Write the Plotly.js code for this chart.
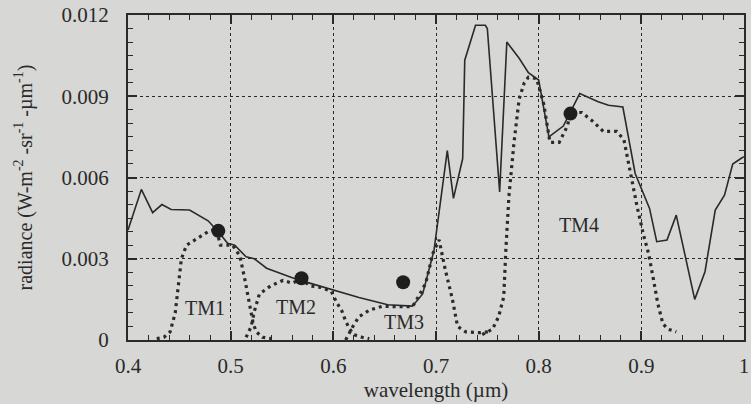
<!DOCTYPE html>
<html><head><meta charset="utf-8">
<script src="https://cdn.plot.ly/plotly-3.0.1.min.js"></script>
<style>html,body{margin:0;padding:0;background:#d7d7d5;}#chart{width:751px;height:404px;background:#d7d7d5;}</style>
</head><body><div id="chart"></div>
<script>
// Measured radiance (solid line)
const radWl = [0.400,0.413,0.424,0.433,0.442,0.460,0.478,0.489,0.497,0.504,0.515,0.523,0.535,0.560,0.577,0.600,0.625,0.653,0.677,0.687,0.698,0.711,0.717,0.726,0.728,0.7385,0.748,0.750,0.762,0.769,0.781,0.790,0.800,0.810,0.824,0.840,0.858,0.868,0.882,0.894,0.902,0.908,0.915,0.925,0.934,0.952,0.962,0.972,0.981,0.989,0.997,1.000];
const radVal = [0.00406,0.00556,0.0047,0.0050,0.00482,0.0048,0.0044,0.00395,0.00357,0.0035,0.00307,0.0030,0.00265,0.0023,0.0021,0.00185,0.00157,0.0013,0.00125,0.0017,0.0033,0.00699,0.00523,0.0067,0.01033,0.01162,0.01162,0.0115,0.00547,0.0110,0.0104,0.00987,0.0096,0.0075,0.0079,0.0091,0.0088,0.00867,0.0086,0.00615,0.0054,0.00486,0.00363,0.00369,0.00461,0.0015,0.00252,0.0048,0.00535,0.0065,0.0067,0.00677];

// TM band responses (dashed)
const tm1Wl = [0.428,0.435,0.441,0.446,0.449,0.452,0.457,0.467,0.478,0.486,0.490,0.502,0.509,0.514,0.518,0.522,0.525,0.531,0.540];
const tm1Val = [0.00005,0.0001,0.0003,0.001,0.002,0.003,0.0035,0.00375,0.004,0.0041,0.0035,0.0035,0.0031,0.0022,0.00135,0.0006,0.0003,0.0001,0.00005];
const tm2Wl = [0.515,0.520,0.523,0.528,0.539,0.551,0.560,0.569,0.577,0.588,0.598,0.603,0.608,0.612,0.616,0.620,0.628,0.635];
const tm2Val = [0.0001,0.0005,0.00105,0.0017,0.002,0.0022,0.0021,0.00225,0.002,0.00194,0.0018,0.0014,0.0011,0.0007,0.0004,0.0002,0.0001,0.00005];
const tm3Wl = [0.612,0.619,0.625,0.635,0.648,0.658,0.677,0.683,0.690,0.697,0.703,0.709,0.716,0.721,0.729,0.742,0.751];
const tm3Val = [0.0000,0.0005,0.00086,0.0011,0.00125,0.00123,0.00123,0.0016,0.0021,0.0032,0.0037,0.0026,0.0015,0.0005,0.0003,0.00027,0.0003];
const tm4Wl = [0.745,0.755,0.761,0.766,0.768,0.771,0.776,0.781,0.786,0.790,0.798,0.805,0.811,0.820,0.828,0.831,0.842,0.852,0.863,0.876,0.883,0.886,0.890,0.896,0.902,0.907,0.912,0.916,0.921,0.926,0.934];
const tm4Val = [0.0002,0.0004,0.00086,0.0016,0.0033,0.0053,0.0073,0.0089,0.0095,0.0097,0.00965,0.0087,0.0073,0.0073,0.0079,0.0084,0.0084,0.0081,0.0077,0.0077,0.0074,0.0068,0.006,0.0049,0.0039,0.0032,0.0022,0.00135,0.0006,0.0004,0.0003];

// Band-averaged points (filled circles)
const dotWl = [0.488,0.569,0.668,0.831];
const dotVal = [0.00403,0.00228,0.00213,0.00836];

// Band labels
const bandNames = ["TM1","TM2","TM3","TM4"];
const bandLabelWl = [0.475,0.564,0.669,0.839];
const bandLabelVal = [0.00118,0.00123,0.00068,0.00424];

const ink = "#2a2a2a";
const dashStyle = {color: ink, width: 3.2, dash: "3px,4px"};
const traces = [
  {x: radWl, y: radVal, mode: "lines", line: {color: ink, width: 1.6}},
  {x: tm1Wl, y: tm1Val, mode: "lines", line: dashStyle},
  {x: tm2Wl, y: tm2Val, mode: "lines", line: dashStyle},
  {x: tm3Wl, y: tm3Val, mode: "lines", line: dashStyle},
  {x: tm4Wl, y: tm4Val, mode: "lines", line: dashStyle},
  {x: dotWl, y: dotVal, mode: "markers", marker: {color: "#1e1e1e", size: 14}}
];

const fam = "'Liberation Serif', 'DejaVu Serif', serif";
const layout = {
  width: 751, height: 404,
  paper_bgcolor: "rgba(0,0,0,0)", plot_bgcolor: "rgba(0,0,0,0)",
  margin: {l: 128, r: 7, t: 15, b: 64},
  showlegend: false,
  font: {family: fam, color: ink, size: 20},
  xaxis: {
    range: [0.4, 1.0], tickmode: "linear", tick0: 0.4, dtick: 0.1,
    ticks: "inside", ticklen: 9, tickwidth: 1.6, tickcolor: ink,
    showline: true, linecolor: ink, linewidth: 2, mirror: "ticks",
    showgrid: true, gridcolor: ink, griddash: "dot", gridwidth: 1.3,
    zeroline: false, ticklabelstandoff: 6,
    minor: {dtick: 0.02, ticks: "inside", ticklen: 5, tickwidth: 1.3, tickcolor: ink, showgrid: false},
    tickfont: {size: 21, family: fam, color: ink},
    title: {text: "wavelength (µm)", font: {size: 21, family: fam, color: ink}, standoff: 4}
  },
  yaxis: {
    range: [0, 0.012], tickmode: "linear", tick0: 0, dtick: 0.003,
    ticks: "inside", ticklen: 9, tickwidth: 1.6, tickcolor: ink,
    showline: true, linecolor: ink, linewidth: 2, mirror: "ticks",
    showgrid: true, gridcolor: ink, griddash: "dot", gridwidth: 1.3,
    zeroline: false, ticklabelstandoff: 13,
    minor: {dtick: 0.0005, ticks: "inside", ticklen: 5, tickwidth: 1.3, tickcolor: ink, showgrid: false},
    tickfont: {size: 21, family: fam, color: ink},
    title: {text: "radiance (W-m<sup>-2</sup> -sr<sup>-1</sup> -µm<sup>-1</sup>)", font: {size: 20, family: fam, color: ink}, standoff: 24}
  },
  annotations: bandNames.map((t, i) => ({
    x: bandLabelWl[i], y: bandLabelVal[i], xref: "x", yref: "y",
    text: t, showarrow: false, font: {size: 20, family: fam, color: ink}
  }))
};
Plotly.newPlot("chart", traces, layout, {displayModeBar: false});
</script>
</body></html>
